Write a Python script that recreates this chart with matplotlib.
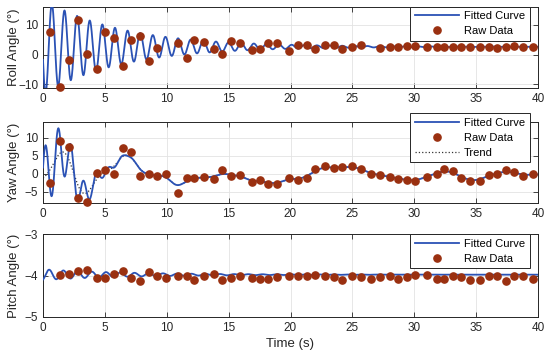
import numpy as np
import matplotlib
matplotlib.use("Agg")
import matplotlib.pyplot as plt

plt.rcParams['font.family'] = ['Liberation Sans', 'DejaVu Sans']

# sample times of the raw measurements (s)
t_raw = [0.6, 1.34, 2.1, 2.83, 3.58, 4.33, 5.0, 5.75, 6.44, 7.14, 7.86, 8.56, 9.25, 9.95,
         10.9, 11.6, 12.2, 13.0, 13.8, 14.5, 15.2, 15.9, 16.9, 17.5, 18.2, 18.9, 19.9, 20.6,
         21.3, 22.0, 22.8, 23.5, 24.2, 25.0, 25.7, 26.5, 27.2, 28.0, 28.7, 29.4, 30.1, 31.0,
         31.8, 32.4, 33.1, 33.8, 34.5, 35.3, 36.0, 36.7, 37.4, 38.1, 38.8, 39.6]

roll_raw = [7.4, -10.7, -1.9, 11.6, 0.3, -4.7, 7.4, 5.4, -3.9, 4.8, 6.2, -2.1, 2.2, np.nan,
            3.9, -1.3, 4.8, 4.3, 1.7, 0.3, 4.5, 4.0, 1.5, 1.7, 3.9, 3.8, 1.1, 3.3,
            3.3, 1.9, 3.3, 3.3, 1.9, 2.5, 3.1, np.nan, 2.2, 2.5, 2.5, 2.7, 2.7, 2.5,
            2.6, 2.5, 2.6, 2.6, 2.5, 2.6, 2.5, 2.3, 2.6, 2.8, 2.6, 2.5]

yaw_raw = [-2.6, 9.25, 7.4, -6.8, -7.9, 0.2, 1.1, 0.0, 7.2, 6.1, -0.5, -0.1, -0.6, -0.1,
           -5.2, -1.2, -1.2, -0.8, -1.4, 1.0, -0.7, -0.3, -2.3, -1.6, -2.7, -2.75, -1.1, -1.7,
           -1.1, 1.3, 2.1, 1.65, 1.9, 2.1, 1.5, -0.1, -0.2, -0.8, -1.3, -1.7, -2.0, -0.8,
           -0.1, 1.3, 0.7, -1.0, -2.0, -2.0, -0.2, 0.1, 1.0, 0.4, -0.55, -0.1]

pitch_raw = [np.nan, -3.98, -3.96, -3.89, -3.87, -4.06, -4.06, -3.96, -3.90, -4.06, -4.14, -3.92, -4.02, -4.06,
             -4.00, -4.02, -4.10, -4.00, -3.96, -4.10, -4.06, -4.02, -4.06, -4.08, -4.08, -4.04, -4.02, -4.00,
             -4.02, -3.98, -4.00, -4.04, -4.12, -4.02, -4.04, -4.08, -4.04, -4.02, -4.08, -4.04, -3.98, -3.98,
             -4.08, -4.08, -4.02, -4.04, -4.12, -4.12, -4.02, -4.02, -4.14, -4.02, -4.02, -4.08]

# fitted damped-oscillation parameters (offset, amplitude, decay s, period s, first peak s)
roll_fit = (2.6, 16.0, 6.3, 1.02, 0.72)
pitch_fit = (-3.98, 0.13, 7.0, 1.15, 0.5)
# yaw: trend + oscillation with gaussian envelope (amplitude, width s, period s, first peak s)
yaw_osc = (8.5, 3.5, 1.03, 0.2)
yaw_trend_bw = 0.6

t_fit = np.linspace(0, 40, 3000)


def damped(t, p):
    off, amp, tau, per, tpk = p
    return off + amp * np.exp(-t / tau) * np.cos(2 * np.pi * (t - tpk) / per)


def smooth_trend(t, ts, vs, bw):
    ts = np.asarray(ts)
    vs = np.asarray(vs)
    w = np.exp(-0.5 * ((t[:, None] - ts[None, :]) / bw) ** 2)
    return (w * vs).sum(axis=1) / w.sum(axis=1)


roll_curve = damped(t_fit, roll_fit)
pitch_curve = damped(t_fit, pitch_fit)
yaw_trend = smooth_trend(t_fit, t_raw, yaw_raw, yaw_trend_bw)
a, wd, per, tpk = yaw_osc
yaw_curve = yaw_trend + a * np.exp(-(t_fit / wd) ** 2) * np.cos(2 * np.pi * (t_fit - tpk) / per)

line_col = '#2b52b5'
dot_col = '#9a3010'
frame_col = '#262626'

fig = plt.figure(figsize=(5.5, 3.58), dpi=100)
L, W = 43 / 550, 495 / 550
H = 358
boxes = [(6.7, 88.3), (121.7, 202.7), (234.3, 316.7)]
axes = [fig.add_axes([L, 1 - b / H, W, (b - t) / H]) for t, b in boxes]

panels = [
    (roll_curve, roll_raw, 'Roll Angle (°)', (-11.3, 16), [-10, 0, 10], 1.0),
    (yaw_curve, yaw_raw, 'Yaw Angle (°)', (-8.0, 14.5), [-5, 0, 5, 10], 1.104),
    (pitch_curve, pitch_raw, 'Pitch Angle (°)', (-5, -3), [-5, -4, -3], 1.0),
]

for i, (ax, (curve, raw, lab, yl, yt, ly)) in enumerate(zip(axes, panels)):
    ax.plot(t_fit, curve, color=line_col, lw=1.3, label='Fitted Curve', zorder=3)
    ax.plot(t_raw, raw, ls='none', marker='o', ms=5.2, mfc=dot_col, mec=dot_col,
            label='Raw Data', zorder=4, clip_on=False)
    if i == 1:
        ax.plot(t_fit, yaw_trend, color='#333333', ls=':', lw=0.9, label='Trend', zorder=2)
    ax.set_xlim(0, 40)
    ax.set_ylim(*yl)
    ax.set_xticks(range(0, 41, 5))
    ax.set_yticks(yt)
    ax.grid(True, color='#e3e3e3', lw=0.6)
    ax.set_axisbelow(True)
    for s in ax.spines.values():
        s.set_color(frame_col)
        s.set_linewidth(0.7)
    ax.tick_params(direction='in', length=3.5, width=0.6, top=True, right=True,
                   labelsize=8.5, colors=frame_col, pad=3.5)
    ax.set_ylabel(lab, fontsize=9.5, color=frame_col)
    ax.yaxis.set_label_coords(-0.047, 0.5)
    leg = ax.legend(loc='upper right', bbox_to_anchor=(0.983, ly), borderaxespad=0,
                    fontsize=8, numpoints=1, handlelength=4.0, handletextpad=0.45,
                    labelspacing=0.45, borderpad=0.4, fancybox=False, framealpha=1,
                    edgecolor=frame_col)
    leg.get_frame().set_linewidth(0.7)
    leg.set_zorder(10)

axes[2].set_xlabel('Time (s)', fontsize=9.5, color=frame_col, labelpad=3)

fig.savefig('out.png', dpi=100)
